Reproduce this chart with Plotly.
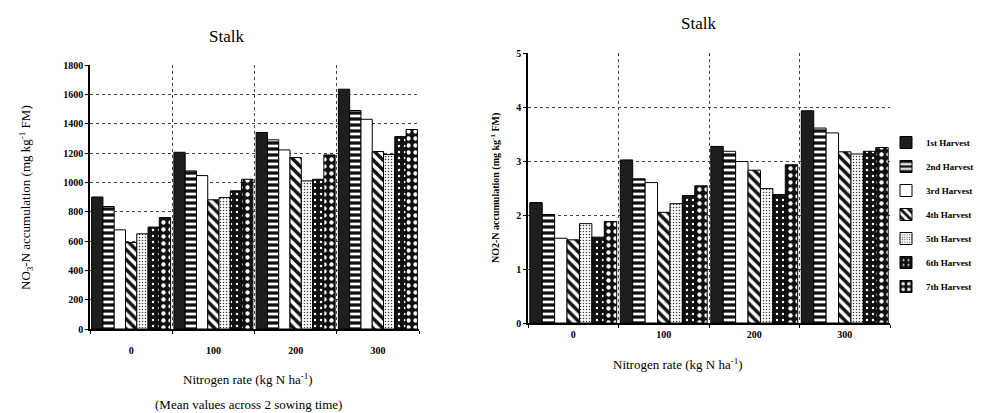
import plotly.graph_objects as go

categories = ["0", "100", "200", "300"]
harvests = ["1st Harvest", "2nd Harvest", "3rd Harvest", "4th Harvest",
            "5th Harvest", "6th Harvest", "7th Harvest"]

# Left chart: NO3-N accumulation (mg kg-1 FM)
no3_h1 = [900, 1205, 1340, 1635]
no3_h2 = [835, 1078, 1290, 1490]
no3_h3 = [676, 1046, 1221, 1430]
no3_h4 = [590, 881, 1169, 1210]
no3_h5 = [649, 897, 1010, 1190]
no3_h6 = [695, 942, 1021, 1312]
no3_h7 = [760, 1021, 1187, 1360]

# Right chart: NO2-N accumulation (mg kg-1 FM)
no2_h1 = [2.23, 3.02, 3.27, 3.93]
no2_h2 = [2.01, 2.67, 3.18, 3.61]
no2_h3 = [1.57, 2.60, 2.99, 3.52]
no2_h4 = [1.54, 2.05, 2.83, 3.17]
no2_h5 = [1.84, 2.21, 2.49, 3.13]
no2_h6 = [1.59, 2.36, 2.38, 3.18]
no2_h7 = [1.88, 2.54, 2.93, 3.25]

left_series = [no3_h1, no3_h2, no3_h3, no3_h4, no3_h5, no3_h6, no3_h7]
right_series = [no2_h1, no2_h2, no2_h3, no2_h4, no2_h5, no2_h6, no2_h7]

# style per harvest: (bar colour, pattern shape, pattern fg, pattern solidity, pattern size)
styles = [
    ("#1e1e1e", "", None, None, None),
    ("#111111", "-", "#ffffff", 0.45, 6),
    ("#ffffff", "", None, None, None),
    ("#ffffff", "\\", "#111111", 0.5, 7),
    ("#ffffff", ".", "#333333", 0.2, 3),
    ("#111111", ".", "#ffffff", 0.12, 6),
    ("#111111", ".", "#ffffff", 0.3, 7),
]

SERIF = "Liberation Serif, Times New Roman, serif"

fig = go.Figure()

def add_bars(series, xa, ya, showlegend):
    for i, (name, vals) in enumerate(zip(harvests, series)):
        color, shape, fg, sol, size = styles[i]
        pattern = dict(shape=shape)
        if shape:
            pattern.update(fgcolor=fg, bgcolor=color, solidity=sol, size=size, fillmode="replace")
        fig.add_trace(go.Bar(
            x=categories, y=vals, name=name, xaxis=xa, yaxis=ya,
            marker=dict(color=color, line=dict(color="#000000", width=1), pattern=pattern),
            showlegend=showlegend, legendgroup=name,
        ))

add_bars(left_series, "x", "y", False)
add_bars(right_series, "x2", "y2", True)

H = 413.0
W = 993.0

axis_common = dict(
    showline=True, linecolor="#000000", linewidth=1.5,
    ticks="outside", ticklen=3, tickcolor="#000000",
    tickfont=dict(family=SERIF, size=10, color="#000000", weight="bold"),
    showgrid=True, gridcolor="#444444", gridwidth=1, griddash="dot",
    zeroline=False, automargin=False, fixedrange=True,
)

fig.update_layout(
    width=993, height=413,
    margin=dict(l=0, r=0, t=0, b=0),
    paper_bgcolor="#ffffff", plot_bgcolor="#ffffff",
    barmode="group", bargap=0.04, bargroupgap=0.0,
    showlegend=True,
    legend=dict(
        x=878 / W, y=1 - 120 / H, xanchor="left", yanchor="top",
        font=dict(family=SERIF, size=9, color="#000000", weight="bold"),
        tracegroupgap=5, itemwidth=30, bgcolor="rgba(0,0,0,0)",
    ),
    xaxis=dict(axis_common, domain=[82 / W, 411 / W], type="category",
               tickson="boundaries", ticklabelstandoff=11, anchor="y"),
    yaxis=dict(axis_common, domain=[1 - 321 / H, 1 - 57 / H], range=[0, 1800],
               dtick=200, anchor="x"),
    xaxis2=dict(axis_common, domain=[520 / W, 882 / W], type="category",
                tickson="boundaries", ticklabelstandoff=1, anchor="y2"),
    yaxis2=dict(axis_common, domain=[1 - 315 / H, 1 - 45 / H], range=[0, 5],
                dtick=1, anchor="x2"),
)

ann_font = dict(family=SERIF, color="#000000")
annotations = [
    dict(text="Stalk", x=218 / W, y=1 - 28 / H, font=dict(ann_font, size=17)),
    dict(text="Stalk", x=690 / W, y=1 - 15 / H, font=dict(ann_font, size=17)),
    dict(text="NO<sub>3</sub>-N accumulation (mg kg<sup>-1</sup> FM)", x=18 / W, y=1 - 190 / H,
         textangle=-90, font=dict(ann_font, size=13)),
    dict(text="NO2-N accumulation (mg kg<sup>-1</sup> FM)", x=487 / W, y=1 - 180 / H,
         textangle=-90, font=dict(ann_font, size=10, weight="bold")),
    dict(text="Nitrogen rate (kg N ha<sup>-1</sup>)", x=240 / W, y=1 - 371 / H,
         font=dict(ann_font, size=13)),
    dict(text="(Mean values across 2 sowing time)", x=240 / W, y=1 - 396 / H,
         font=dict(ann_font, size=13)),
    dict(text="Nitrogen rate (kg N ha<sup>-1</sup>)", x=670 / W, y=1 - 356 / H,
         font=dict(ann_font, size=13)),
]
for a in annotations:
    a.update(xref="paper", yref="paper", showarrow=False, xanchor="center", yanchor="middle")
fig.update_layout(annotations=annotations)

fig.write_html("out.html")
